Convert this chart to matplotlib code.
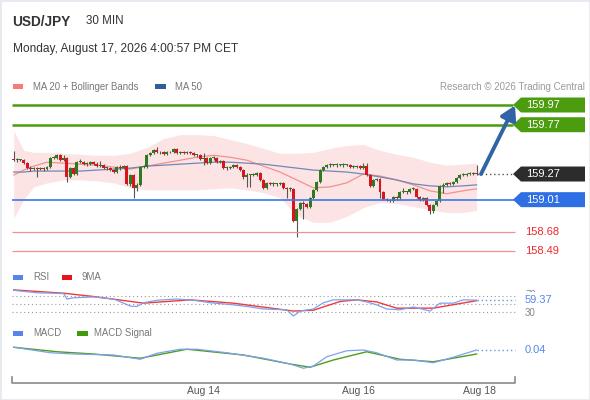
import matplotlib
matplotlib.use("Agg")
import matplotlib.pyplot as plt
from matplotlib.patches import Polygon, Rectangle, FancyArrowPatch
from matplotlib import transforms

plt.rcParams['font.family'] = ['Liberation Sans', 'DejaVu Sans']

# ---- price data (30 min candles) ----
first_open = 159.42
closes = [159.41, 159.41, 159.41, 159.38, 159.33, 159.32, 159.33, 159.32, 159.33, 159.32,
          159.34, 159.43, 159.43, 159.46, 159.41, 159.43, 159.24, 159.33, 159.27, 159.39,
          159.39, 159.37, 159.37, 159.39, 159.37, 159.35, 159.36, 159.33, 159.33, 159.31,
          159.29, 159.34, 159.33, 159.35, 159.17, 159.26, 159.13, 159.16, 159.34, 159.34,
          159.46, 159.48, 159.51, 159.49, 159.49, 159.47, 159.49, 159.49, 159.52, 159.48,
          159.49, 159.48, 159.49, 159.48, 159.46, 159.46, 159.42, 159.43, 159.38, 159.43,
          159.43, 159.39, 159.40, 159.33, 159.33, 159.34, 159.36, 159.34, 159.31, 159.24,
          159.26, 159.26, 159.26, 159.28, 159.21, 159.13, 159.18, 159.17, 159.17, 159.17,
          159.18, 159.13, 159.12, 159.12, 158.79, 158.92, 158.98, 158.97, 158.94, 159.03,
          159.11, 159.19, 159.31, 159.34, 159.36, 159.36, 159.36, 159.36, 159.36, 159.36,
          159.36, 159.34, 159.34, 159.35, 159.33, 159.35, 159.26, 159.15, 159.21, 159.22,
          159.09, 159.02, 159.01, 159.00, 159.04, 159.03, 159.09, 159.09, 159.09, 159.12,
          159.12, 159.04, 159.01, 159.03, 158.96, 158.89, 158.96, 159.00, 159.15, 159.16,
          159.18, 159.17, 159.19, 159.23, 159.26, 159.26, 159.27, 159.27, 159.28, 159.27]
highs = [159.50, 159.43, 159.42, 159.42, 159.39, 159.35, 159.34, 159.34, 159.34, 159.34,
         159.35, 159.44, 159.45, 159.47, 159.47, 159.46, 159.44, 159.34, 159.34, 159.40,
         159.42, 159.40, 159.39, 159.40, 159.40, 159.39, 159.40, 159.37, 159.34, 159.34,
         159.32, 159.35, 159.36, 159.36, 159.36, 159.27, 159.27, 159.18, 159.35, 159.36,
         159.47, 159.49, 159.52, 159.54, 159.50, 159.50, 159.50, 159.50, 159.53, 159.53,
         159.50, 159.50, 159.50, 159.50, 159.49, 159.47, 159.47, 159.48, 159.44, 159.44,
         159.45, 159.44, 159.41, 159.41, 159.35, 159.35, 159.37, 159.37, 159.35, 159.32,
         159.28, 159.27, 159.28, 159.29, 159.29, 159.22, 159.19, 159.19, 159.19, 159.18,
         159.19, 159.19, 159.14, 159.14, 159.13, 158.93, 158.99, 159.00, 158.98, 159.04,
         159.12, 159.20, 159.32, 159.35, 159.37, 159.38, 159.37, 159.38, 159.37, 159.38,
         159.37, 159.37, 159.36, 159.36, 159.36, 159.38, 159.38, 159.27, 159.22, 159.23,
         159.23, 159.10, 159.03, 159.02, 159.05, 159.05, 159.10, 159.13, 159.10, 159.13,
         159.14, 159.13, 159.05, 159.04, 159.04, 158.97, 158.97, 159.01, 159.16, 159.18,
         159.19, 159.19, 159.20, 159.24, 159.27, 159.28, 159.28, 159.29, 159.29, 159.36]
lows = [159.40, 159.39, 159.40, 159.37, 159.32, 159.30, 159.31, 159.24, 159.31, 159.30,
        159.31, 159.33, 159.42, 159.42, 159.40, 159.40, 159.19, 159.23, 159.26, 159.26,
        159.38, 159.36, 159.35, 159.36, 159.36, 159.34, 159.34, 159.32, 159.31, 159.30,
        159.28, 159.28, 159.31, 159.32, 159.16, 159.15, 159.03, 159.10, 159.15, 159.33,
        159.33, 159.45, 159.47, 159.48, 159.47, 159.46, 159.46, 159.48, 159.48, 159.47,
        159.47, 159.47, 159.47, 159.47, 159.45, 159.44, 159.41, 159.36, 159.37, 159.37,
        159.41, 159.38, 159.38, 159.32, 159.31, 159.32, 159.33, 159.33, 159.30, 159.22,
        159.14, 159.14, 159.25, 159.25, 159.20, 159.12, 159.12, 159.16, 159.15, 159.15,
        159.16, 159.12, 159.03, 159.10, 158.78, 158.63, 158.91, 158.81, 158.93, 158.93,
        159.02, 159.10, 159.18, 159.30, 159.33, 159.34, 159.35, 159.34, 159.35, 159.34,
        159.35, 159.33, 159.33, 159.33, 159.32, 159.32, 159.25, 159.14, 159.14, 159.20,
        159.03, 159.01, 159.00, 158.99, 158.99, 159.01, 159.02, 159.08, 159.07, 159.08,
        159.11, 159.03, 159.00, 159.00, 158.95, 158.86, 158.87, 158.95, 158.99, 159.08,
        159.15, 159.16, 159.16, 159.18, 159.22, 159.25, 159.25, 159.26, 159.26, 159.26]
opens = [first_open] + closes[:-1]

# ---- moving averages / bollinger bands (read at sample candles) ----
band_idx = [0, 3, 6, 10, 15, 20, 25, 30, 35, 40, 45, 50, 55, 60, 65,
            70, 75, 80, 85, 90, 95, 100, 105, 110, 115, 120, 125, 130, 135, 139]
ma20 = [159.26, 159.31, 159.35, 159.39, 159.38, 159.37, 159.36, 159.34, 159.32, 159.35,
        159.38, 159.41, 159.44, 159.46, 159.44, 159.41, 159.35, 159.29, 159.21, 159.13,
        159.14, 159.18, 159.27, 159.25, 159.21, 159.16, 159.10, 159.07, 159.10, 159.12]
ma50 = [159.29, 159.29, 159.30, 159.30, 159.30, 159.30, 159.31, 159.32, 159.33, 159.35,
        159.36, 159.37, 159.38, 159.39, 159.39, 159.38, 159.37, 159.35, 159.33, 159.31,
        159.30, 159.29, 159.27, 159.24, 159.21, 159.17, 159.15, 159.14, 159.15, 159.16]
bb_upper = [159.71, 159.51, 159.49, 159.49, 159.48, 159.47, 159.46, 159.46, 159.48, 159.54,
            159.63, 159.67, 159.67, 159.66, 159.62, 159.58, 159.53, 159.48, 159.48, 159.49,
            159.53, 159.56, 159.57, 159.51, 159.47, 159.44, 159.39, 159.36, 159.37, 159.38]
bb_lower = [158.82, 159.01, 159.14, 159.18, 159.21, 159.21, 159.20, 159.18, 159.13, 159.11,
            159.11, 159.11, 159.11, 159.12, 159.13, 159.11, 159.08, 159.03, 158.85, 158.78,
            158.78, 158.84, 158.93, 158.98, 158.97, 158.94, 158.91, 158.88, 158.88, 158.90]

# ---- RSI ----
rsi_idx = [0, 7, 12, 15, 16, 18, 24, 30, 33, 35, 37, 39, 43, 49, 55, 59, 66, 71, 75,
           82, 84, 86, 90, 93, 96, 103, 106, 109, 112, 116, 120, 125, 128, 132, 135, 139]
rsi_vals = [83, 77, 76, 75, 62, 65, 67, 62, 52, 45, 44, 53, 59, 62, 58, 53, 48, 43, 38,
            36, 21, 33, 38, 53, 60, 60, 55, 48, 38, 36, 43, 33, 52, 52, 60, 59.37]
rsi_ma_idx = [0, 15, 24, 39, 53, 66, 84, 90, 98, 103, 109, 115, 126, 139]
rsi_ma_vals = [84, 76, 68, 52, 60, 52, 33, 35, 56, 60, 55, 40, 40, 58]

# ---- MACD ----
macd_idx = [0, 7, 11, 18, 30, 38, 43, 50, 55, 64, 75, 83, 87, 90, 94, 100, 105,
            109, 115, 120, 126, 132, 139]
macd_vals = [0.051, 0.037, 0.029, 0.024, 0.020, 0.003, 0.027, 0.043, 0.043, 0.029, 0.007,
             -0.016, -0.033, -0.024, 0.013, 0.037, 0.040, 0.029, 0.000, 0.000, -0.011,
             0.011, 0.040]
signal_idx = [0, 13, 24, 38, 52, 69, 83, 89, 96, 106, 116, 126, 139]
signal_vals = [0.051, 0.033, 0.024, 0.007, 0.043, 0.020, -0.016, -0.029, 0.000, 0.033,
               0.003, -0.007, 0.024]

res_levels = [159.97, 159.77]
sup_level = 159.01
low_levels = [158.68, 158.49]
last_price = 159.27
rsi_last = 59.37
macd_last = 0.04
date_ticks = [57, 103.5, 140]
date_labels = ['Aug 14', 'Aug 16', 'Aug 18']

# ---- layout (pixels) ----
W, H = 590, 400
X0, DX = 13.7, 3.33          # px of first candle, px per candle
PX_PER_PRICE = 98.6


def px2i(px):
    return (px - X0) / DX


XL = (px2i(0), px2i(W))
LINE_END = px2i(515)

GREEN = '#4c9c0f'
BLUE = '#2f6fe4'
DARK = '#2c2c2c'
RED_TXT = '#f0262b'
GRAY = '#777777'

fig = plt.figure(figsize=(W / 100, H / 100), dpi=100)
fig.patch.set_facecolor('white')
fig.patches.append(Rectangle((0, 0), 1, 1, transform=fig.transFigure, fill=False,
                             edgecolor='#e6e9ef', lw=2))


def add_panel(top, bottom):
    a = fig.add_axes([0, (H - bottom) / H, 1, (bottom - top) / H])
    a.set_xlim(*XL)
    a.axis('off')
    return a


def ftext(x, y, s, **kw):
    fig.text(x / W, 1 - y / H, s, va='center', **kw)


def swatch(x, y, w, color):
    fig.patches.append(Rectangle((x / W, 1 - (y + 2.5) / H), w / W, 5 / H,
                                 transform=fig.transFigure, color=color, lw=0))


# ---- header ----
ftext(12, 22, 'USD/JPY', fontsize=9.8, fontweight='bold', color='#333333')
ftext(86, 21, '30 MIN', fontsize=8.4, color='#333333')
ftext(13, 49, 'Monday, August 17, 2026 4:00:57 PM CET', fontsize=8.6, color='#333333')
swatch(13, 86.5, 10, '#f77b7b')
ftext(33, 86.5, 'MA 20 + Bollinger Bands', fontsize=6.9, color=GRAY)
swatch(155, 86.5, 11, '#335c9a')
ftext(175, 86.5, 'MA 50', fontsize=6.9, color=GRAY)
ftext(585, 86.5, 'Research \u00a9 2026 Trading Central', fontsize=7.0, color='#9a9a9a', ha='right')

# ---- main price panel ----
ax = add_panel(95, 262)
ax.set_ylim(res_levels[0] - (262 - 105) / PX_PER_PRICE, res_levels[0] + 10 / PX_PER_PRICE)

ax.fill_between(band_idx, bb_lower, bb_upper, color='#fde4e4', lw=0, zorder=1)
ax.plot(band_idx, ma20, color='#f39090', lw=0.9, zorder=2)
ax.plot(band_idx, ma50, color='#6f88b8', lw=0.9, zorder=2)

for i, (o, h, l, c) in enumerate(zip(opens, highs, lows, closes)):
    ax.vlines(i, l, h, color='#555555', lw=0.8, zorder=3)
    col = '#2f7a1f' if c >= o else '#d9141c'
    body = max(abs(c - o), 0.008)
    ax.bar(i, body, bottom=min(o, c), width=0.9, color=col, lw=0, zorder=4)

ax.hlines(res_levels, px2i(12), px2i(513), color=GREEN, lw=1.8, zorder=5)
ax.hlines(sup_level, px2i(12), LINE_END, color='#3a78ea', lw=1.2, zorder=5)
ax.hlines(low_levels, px2i(12), LINE_END, color='#f29090', lw=0.9, zorder=5)
ax.plot([len(closes) - 1, px2i(513)], [last_price, last_price], ls=(0, (1, 2)),
        color='#555555', lw=1, zorder=5)

blend = transforms.blended_transform_factory(ax.transAxes, ax.transData)
hh = 7.5 / PX_PER_PRICE


def tag(y, text, color):
    pts = [(513 / W, y), (521 / W, y + hh), (585 / W, y + hh), (585 / W, y - hh), (521 / W, y - hh)]
    ax.add_patch(Polygon(pts, closed=True, transform=blend, color=color, lw=0,
                         clip_on=False, zorder=6))
    ax.text(526 / W, y, text, transform=blend, color='white', fontsize=8,
            va='center', ha='left', zorder=7, clip_on=False)


for lv in res_levels:
    tag(lv, f'{lv:.2f}', GREEN)
tag(last_price, f'{last_price:.2f}', DARK)
tag(sup_level, f'{sup_level:.2f}', BLUE)
for lv in low_levels:
    ax.text(525 / W, lv, f'{lv:.2f}', transform=blend, color=RED_TXT, fontsize=8,
            va='center', ha='left', clip_on=False)

arrow = FancyArrowPatch((px2i(481), last_price), (px2i(515), res_levels[0] - 0.005),
                        arrowstyle='-|>,head_length=0.6,head_width=0.35', mutation_scale=14,
                        lw=2.8, color='#3263a6', shrinkA=0, shrinkB=0, zorder=8, clip_on=False)
ax.add_patch(arrow)

# ---- RSI panel ----
swatch(13, 277, 10, '#5b84ea')
ftext(33, 277, 'RSI', fontsize=6.9, color=GRAY)
swatch(62, 277, 10, '#e8131a')
ftext(82, 277, '9MA', fontsize=6.9, color=GRAY)

ar = add_panel(285, 320)
ar.set_ylim(50 - 16 * 2.41, 50 + 19 * 2.41)
ar.hlines([70, 50, 30], px2i(12), LINE_END, color='#9a9a9a', lw=0.8, ls=(0, (1, 2.5)))
ar.plot(rsi_ma_idx, rsi_ma_vals, color='#ee3a3a', lw=1.0)
ar.plot(rsi_idx, rsi_vals, color='#7f9ff0', lw=0.9)
ar.plot([rsi_idx[-1], LINE_END], [rsi_last, rsi_last], color='#6f8fe8', lw=1, ls=(0, (1, 2)))
rb = transforms.blended_transform_factory(ar.transAxes, ar.transData)
ar.text(525 / W, 71, '70', transform=rb, fontsize=7, color='#888888', va='center', clip_on=False)
ar.text(525 / W, 29, '30', transform=rb, fontsize=7, color='#888888', va='center', clip_on=False)
ar.text(525 / W, rsi_last, f'{rsi_last:.2f}', transform=rb, fontsize=8, color='#5b84ea',
        va='center', clip_on=False,
        bbox=dict(boxstyle='square,pad=0.3', facecolor='white', edgecolor='none'))

# ---- MACD panel ----
swatch(13, 333, 10, '#5b84ea')
ftext(33, 333, 'MACD', fontsize=6.9, color=GRAY)
swatch(77, 333, 11, '#3f9a10')
ftext(94, 333, 'MACD Signal', fontsize=6.9, color=GRAY)

am = add_panel(340, 375)
am.set_ylim(-0.06, 0.08)
am.plot(signal_idx, signal_vals, color='#4c9e1a', lw=1.0)
am.plot(macd_idx, macd_vals, color='#7f9ff0', lw=0.9)
am.plot([macd_idx[-1], LINE_END], [macd_last, macd_last], color='#6f8fe8', lw=1, ls=(0, (1, 2)))
mb = transforms.blended_transform_factory(am.transAxes, am.transData)
am.text(525 / W, macd_last, f'{macd_last:.2f}', transform=mb, fontsize=8, color='#5b84ea',
        va='center', clip_on=False)

# ---- time axis ----
axx = add_panel(377, 383)
axx.set_ylim(0, 1)
axx.plot([px2i(12), px2i(12), LINE_END, LINE_END], [1, 0, 0, 1], color='#8a8a8a', lw=1.2,
         clip_on=False)
for t, lab in zip(date_ticks, date_labels):
    axx.text(t, -1.4, lab, ha='center', va='center', fontsize=7.5, color='#555555')

fig.savefig('out.png', dpi=100, facecolor='white')
